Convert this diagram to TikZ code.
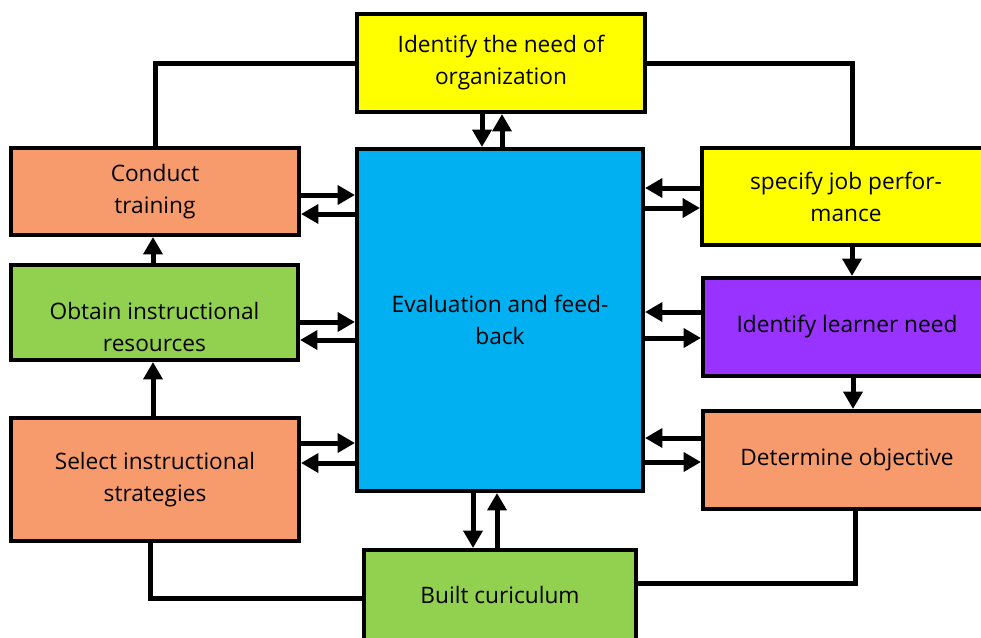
\documentclass[tikz,border=0pt]{standalone}
\usepackage{fontspec}
\setmainfont{Open Sans}
\usetikzlibrary{arrows.meta}
\definecolor{orng}{HTML}{F89B6C}
\definecolor{yelw}{HTML}{FFFF00}
\definecolor{skyb}{HTML}{00B0F0}
\definecolor{lgrn}{HTML}{92D050}
\definecolor{purp}{HTML}{9933FF}
\begin{document}
\begin{tikzpicture}[x=0.75pt,y=-0.75pt,
  box/.style={shape=rectangle, draw, line width=3pt, align=center,
    font=\fontsize{17}{24}\selectfont},
  arr/.style={line width=3.75pt, -{Triangle[length=13pt,width=14pt]}},
  link/.style={line width=3.75pt}]
\useasboundingbox (0,0) rectangle (981,637);

\path (501,63) node (need) [box, fill=yelw, minimum width=216pt, minimum height=73.5pt] {Identify the need of\\organization};
\path (500,320) node (eval) [box, fill=skyb, minimum width=214.5pt, minimum height=256.5pt] {Evaluation and feed-\\back};
\path (155,191.5) node (training) [box, fill=orng, minimum width=216pt, minimum height=65.25pt] {Conduct\\training};
\path (154.5,312.5) node (resources) [box, fill=lgrn, minimum width=215.25pt, minimum height=71.25pt] {\rule{0pt}{34pt}Obtain instructional\\resources};
\path (155,479.5) node (strat) [box, fill=orng, minimum width=216pt, minimum height=92.25pt] {Select instructional\\strategies};
\path (846,196.5) node (job) [box, fill=yelw, minimum width=216pt, minimum height=72.75pt] {specify job perfor-\\mance};
\path (847,327) node (learner) [box, fill=purp, minimum width=216pt, minimum height=73.5pt] {Identify learner need};
\path (847,460) node (objective) [box, fill=orng, minimum width=216pt, minimum height=73.5pt] {Determine objective};
\path (500,595) node (curric) [box, fill=lgrn, minimum width=204pt, minimum height=67.5pt] {Built curiculum};

% outer loop
\draw [link] (need.west) -| (training.north);
\draw [link] (need.east) -| (job.north -| 852,0);
\draw [link] (strat.south -| 150,0) |- (curric.west |- 0,598);
\draw [link] (objective.south -| 855,0) |- (curric.east |- 0,583);

% left column
\draw [arr] (resources.north -| 153,0) -- (training.south -| 153,0);
\draw [arr] (strat.north -| 153,0) -- (resources.south -| 153,0);
\draw [arr] (training.east |- 0,195) -- (eval.west |- 0,195);
\draw [arr] (eval.west |- 0,214) -- (training.east |- 0,214);
\draw [arr] (resources.east |- 0,322) -- (eval.west |- 0,322);
\draw [arr] (eval.west |- 0,340) -- (resources.east |- 0,340);
\draw [arr] (strat.east |- 0,443) -- (eval.west |- 0,443);
\draw [arr] (eval.west |- 0,463) -- (strat.east |- 0,463);

% right column
\draw [arr] (job.south -| 852,0) -- (learner.north -| 852,0);
\draw [arr] (learner.south -| 853,0) -- (objective.north -| 853,0);
\draw [arr] (job.west |- 0,188) -- (eval.east |- 0,188);
\draw [arr] (eval.east |- 0,208) -- (job.west |- 0,208);
\draw [arr] (learner.west |- 0,312) -- (eval.east |- 0,312);
\draw [arr] (eval.east |- 0,338) -- (learner.west |- 0,338);
\draw [arr] (objective.west |- 0,438) -- (eval.east |- 0,438);
\draw [arr] (eval.east |- 0,462) -- (objective.west |- 0,462);

% top and bottom
\draw [arr] (need.south -| 482,0) -- (eval.north -| 482,0);
\draw [arr] (eval.north -| 502,0) -- (need.south -| 502,0);
\draw [arr] (eval.south -| 473,0) -- (curric.north -| 473,0);
\draw [arr] (curric.north -| 497,0) -- (eval.south -| 497,0);

\end{tikzpicture}
\end{document}
